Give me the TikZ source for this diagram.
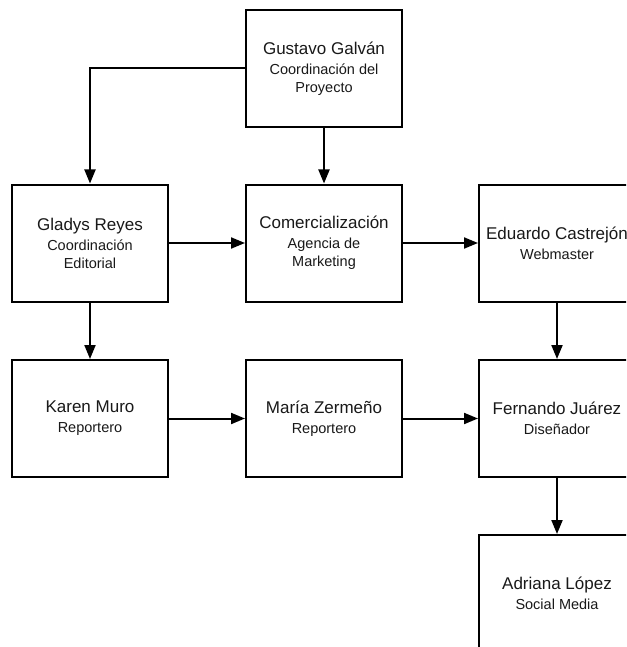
\documentclass[tikz,border=0pt]{standalone}
\usepackage{fontspec}
\setmainfont{Liberation Sans}
\usetikzlibrary{arrows.meta}
\newcommand{\pname}{\fontsize{17pt}{20pt}\selectfont}
\newcommand{\prole}{\fontsize{14.5pt}{18pt}\selectfont}
\tikzset{
  person/.style={draw=black, line width=2pt, fill=white, minimum width=156pt,
    minimum height=117pt, align=center, inner sep=0pt, text=black!90, font=\prole},
  link/.style={line width=2pt, -{Triangle[length=14pt,width=11pt]}}
}
\begin{document}
\begin{tikzpicture}[x=1pt,y=-1pt]
  \useasboundingbox (0,0) rectangle (626,647);
  \fill[white] (0,0) rectangle (626,647);
  \clip (0,0) rectangle (626,647);

  % first row
  \node[person] (gus) at (324,68.5) {{\pname Gustavo Galván}\\[2pt]Coordinación del\\Proyecto};
  % second row
  \node[person] (gla) at (90,243) {{\pname Gladys Reyes}\\[2pt]Coordinación\\Editorial};
  \node[person] (com) at (324,243) {{\pname Comercialización}\\[2pt]Agencia de\\Marketing};
  \node[person] (edu) at (557,243) {{\pname Eduardo Castrejón}\\[2pt]Webmaster};
  % third row
  \node[person] (kar) at (90,418.5) {{\pname Karen Muro}\\[2pt]Reportero};
  \node[person] (mar) at (324,418.5) {{\pname María Zermeño}\\[2pt]Reportero};
  \node[person] (fer) at (557,418.5) {{\pname Fernando Juárez}\\[2pt]Diseñador};
  % fourth row
  \node[person] (adr) at (557,593.5) {{\pname Adriana López}\\[2pt]Social Media};

  % connectors
  \draw[link] (gus.west) -| (gla.north);
  \draw[link] (gus.south) -- (com.north);
  \draw[link] (gla.east) -- (com.west);
  \draw[link] (com.east) -- (edu.west);
  \draw[link] (gla.south) -- (kar.north);
  \draw[link] (edu.south) -- (fer.north);
  \draw[link] (kar.east) -- (mar.west);
  \draw[link] (mar.east) -- (fer.west);
  \draw[link] (fer.south) -- (adr.north);
\end{tikzpicture}
\end{document}
